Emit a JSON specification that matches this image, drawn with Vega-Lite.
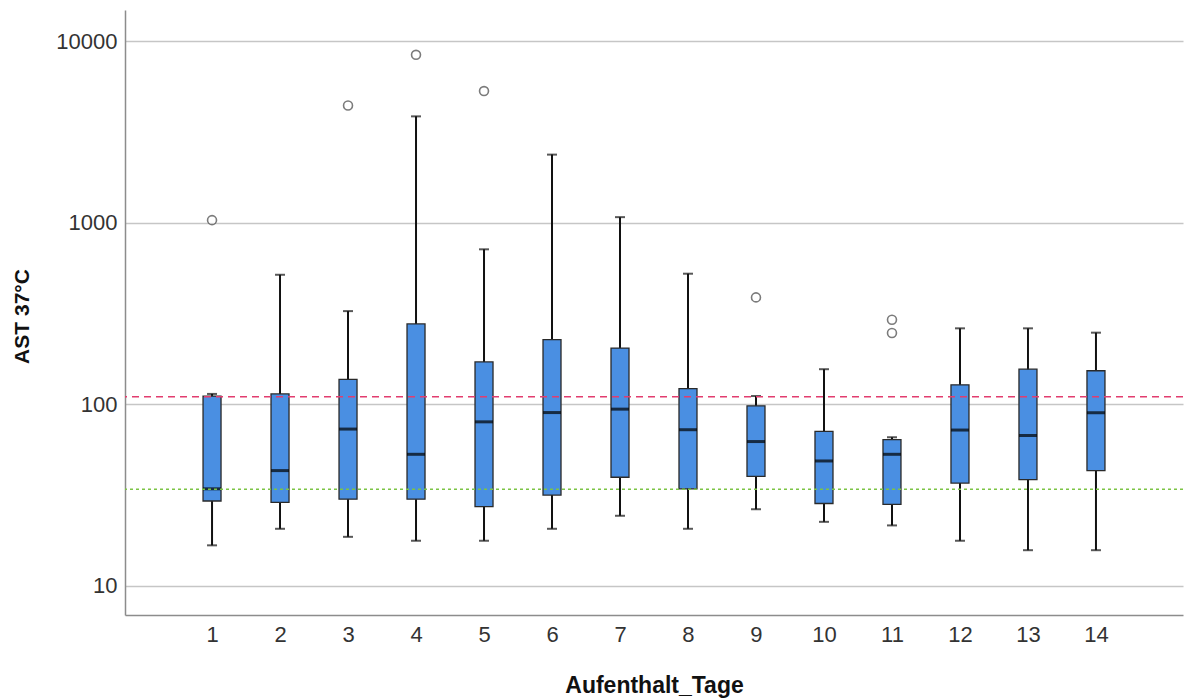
{
  "$schema": "https://vega.github.io/schema/vega-lite/v6.json",
  "width": 1058,
  "height": 605,
  "autosize": "none",
  "padding": {"left": 125, "top": 10, "right": 2, "bottom": 85},
  "background": "white",
  "config": {
    "view": {"stroke": null},
    "font": "Liberation Sans"
  },
  "datasets": {
    "boxes": [
      {"tag": 1, "lower": 16.7, "q1": 29.3, "median": 34.2, "q3": 111, "upper": 114},
      {"tag": 2, "lower": 20.6, "q1": 28.8, "median": 43.1, "q3": 114, "upper": 517},
      {"tag": 3, "lower": 18.6, "q1": 30, "median": 73, "q3": 137, "upper": 326},
      {"tag": 4, "lower": 17.7, "q1": 30, "median": 53, "q3": 277, "upper": 3857},
      {"tag": 5, "lower": 17.7, "q1": 27.3, "median": 80, "q3": 171, "upper": 714},
      {"tag": 6, "lower": 20.6, "q1": 31.6, "median": 90, "q3": 227, "upper": 2374},
      {"tag": 7, "lower": 24.3, "q1": 39.6, "median": 94, "q3": 204, "upper": 1074},
      {"tag": 8, "lower": 20.6, "q1": 34.2, "median": 72.4, "q3": 122, "upper": 524},
      {"tag": 9, "lower": 26.4, "q1": 40.1, "median": 62.3, "q3": 98, "upper": 111},
      {"tag": 10, "lower": 22.5, "q1": 28.4, "median": 48.7, "q3": 70.9, "upper": 156},
      {"tag": 11, "lower": 21.5, "q1": 28.1, "median": 53, "q3": 63.9, "upper": 65.8},
      {"tag": 12, "lower": 17.7, "q1": 36.8, "median": 72.1, "q3": 128, "upper": 262},
      {"tag": 13, "lower": 15.7, "q1": 38.4, "median": 67.3, "q3": 156, "upper": 262},
      {"tag": 14, "lower": 15.7, "q1": 43.1, "median": 89.8, "q3": 153, "upper": 248}
    ],
    "outliers": [
      {"tag": 1, "value": 1034},
      {"tag": 3, "value": 4427},
      {"tag": 4, "value": 8423},
      {"tag": 5, "value": 5316},
      {"tag": 9, "value": 388},
      {"tag": 11, "value": 292},
      {"tag": 11, "value": 247}
    ],
    "refs": [
      {"limit": 110, "kind": "upper"},
      {"limit": 34, "kind": "lower"}
    ]
  },
  "layer": [
    {
      "data": {"name": "boxes"},
      "mark": {"type": "rule", "color": "#111111", "strokeWidth": 2},
      "encoding": {
        "x": {
          "field": "tag",
          "type": "quantitative",
          "scale": {"domain": [-0.28, 15.28], "nice": false, "zero": false, "padding": 0},
          "axis": {
            "title": "Aufenthalt_Tage",
            "values": [1, 2, 3, 4, 5, 6, 7, 8, 9, 10, 11, 12, 13, 14],
            "format": "d",
            "grid": false,
            "ticks": false,
            "domainColor": "#8c8c8c",
            "domainWidth": 1.5,
            "labelFont": "Liberation Sans",
            "labelFontSize": 22,
            "labelColor": "#333333",
            "labelPadding": 9,
            "titleFont": "Liberation Sans",
            "titleFontSize": 23,
            "titleFontWeight": "bold",
            "titleColor": "#111111",
            "titleBaseline": "middle",
            "titleY": 70
          }
        },
        "y": {
          "field": "lower",
          "type": "quantitative",
          "scale": {"type": "log", "domain": [6.9, 14870], "nice": false, "padding": 0},
          "axis": {
            "title": "AST 37°C",
            "values": [10, 100, 1000, 10000],
            "format": "d",
            "grid": true,
            "gridColor": "#c6c6c6",
            "gridWidth": 1.5,
            "ticks": false,
            "domainColor": "#8c8c8c",
            "domainWidth": 1.5,
            "labelFont": "Liberation Sans",
            "labelFontSize": 22,
            "labelColor": "#333333",
            "labelPadding": 8,
            "titleFont": "Liberation Sans",
            "titleFontSize": 21,
            "titleFontWeight": "bold",
            "titleColor": "#111111",
            "titleAngle": -90,
            "titleBaseline": "middle",
            "titleX": -103,
            "titleY": 306
          }
        },
        "y2": {"field": "upper"}
      }
    },
    {
      "data": {"name": "boxes"},
      "mark": {"type": "tick", "orient": "horizontal", "color": "#111111", "size": 10, "thickness": 2},
      "encoding": {
        "x": {"field": "tag", "type": "quantitative"},
        "y": {"field": "upper", "type": "quantitative"}
      }
    },
    {
      "data": {"name": "boxes"},
      "mark": {"type": "tick", "orient": "horizontal", "color": "#111111", "size": 10, "thickness": 2},
      "encoding": {
        "x": {"field": "tag", "type": "quantitative"},
        "y": {"field": "lower", "type": "quantitative"}
      }
    },
    {
      "data": {"name": "boxes"},
      "mark": {"type": "bar", "size": 18, "fill": "#4a8fe2", "stroke": "#2a2a2a", "strokeWidth": 1.3},
      "encoding": {
        "x": {"field": "tag", "type": "quantitative"},
        "y": {"field": "q1", "type": "quantitative"},
        "y2": {"field": "q3"}
      }
    },
    {
      "data": {"name": "boxes"},
      "mark": {"type": "tick", "orient": "horizontal", "color": "#000000", "size": 18, "thickness": 3},
      "encoding": {
        "x": {"field": "tag", "type": "quantitative"},
        "y": {"field": "median", "type": "quantitative"}
      }
    },
    {
      "data": {"name": "refs"},
      "mark": {"type": "rule", "strokeWidth": 1.5},
      "encoding": {
        "y": {"field": "limit", "type": "quantitative"},
        "color": {
          "field": "kind",
          "type": "nominal",
          "scale": {"domain": ["upper", "lower"], "range": ["#e23d6f", "#7cc445"]},
          "legend": null
        },
        "strokeDash": {
          "field": "kind",
          "type": "nominal",
          "scale": {"domain": ["upper", "lower"], "range": [[7, 5], [3, 3]]},
          "legend": null
        }
      }
    },
    {
      "data": {"name": "outliers"},
      "mark": {"type": "point", "shape": "circle", "filled": false, "size": 80, "stroke": "#444444", "strokeWidth": 1.6, "fill": "white"},
      "encoding": {
        "x": {"field": "tag", "type": "quantitative"},
        "y": {"field": "value", "type": "quantitative"}
      }
    }
  ]
}
